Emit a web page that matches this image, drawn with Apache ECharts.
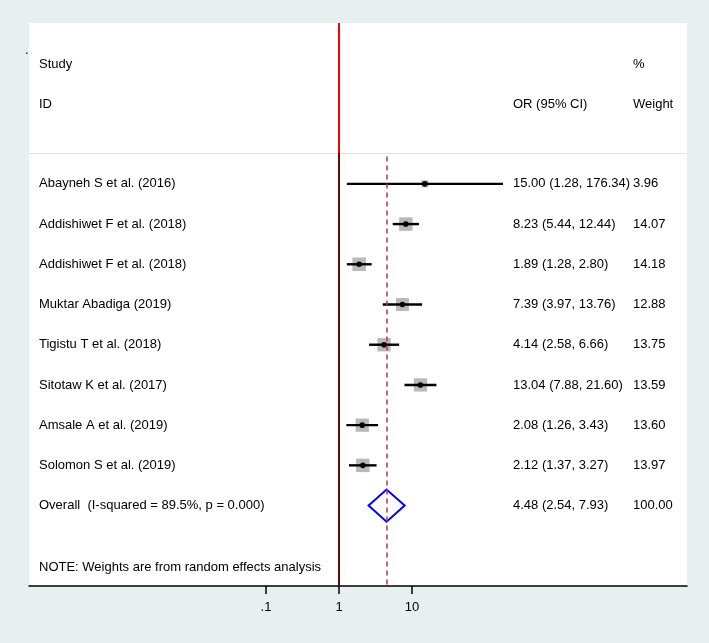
<!DOCTYPE html>
<html>
<head>
<meta charset="utf-8">
<script src="https://cdn.jsdelivr.net/npm/echarts@6/dist/echarts.min.js"></script>
<style>
  html, body { margin: 0; padding: 0; background: #e7eff1; }
  #chart { width: 709px; height: 643px; }
</style>
</head>
<body>
<div id="chart"></div>
<script>
// study rows
var studies = [
    'Abayneh S et al. (2016)',
    'Addishiwet F et al. (2018)',
    'Addishiwet F et al. (2018)',
    'Muktar Abadiga (2019)',
    'Tigistu T et al. (2018)',
    'Sitotaw K et al. (2017)',
    'Amsale A et al. (2019)',
    'Solomon S et al. (2019)'
];
var oddsRatio = [15.00, 8.23, 1.89, 7.39, 4.14, 13.04, 2.08, 2.12];
var lowerCI = [1.28, 5.44, 1.28, 3.97, 2.58, 7.88, 1.26, 1.37];
var upperCI = [176.34, 12.44, 2.80, 13.76, 6.66, 21.60, 3.43, 3.27];
var weights = [3.96, 14.07, 14.18, 12.88, 13.75, 13.59, 13.60, 13.97];

// pooled estimate
var overallLabel = 'Overall  (I-squared = 89.5%, p = 0.000)';
var overallOR = [4.48, 2.54, 7.93]; // estimate, lower, upper
var overallWeight = 100.00;

// x axis
var tickValues = [0.1, 1, 10];
var tickLabels = ['.1', '1', '10'];

var FONT = '13px "Liberation Sans", Arial, sans-serif';
var lg = function (v) { return Math.log10(v); };
var X_MIN = -4.247, X_MAX = 4.767;

var studyData = studies.map(function (s, i) {
    return [lg(oddsRatio[i]), i, lg(lowerCI[i]), lg(upperCI[i]), weights[i]];
});
var overallRow = studies.length;

var chart = echarts.init(document.getElementById('chart'));

var txt = function (x, y, s) {
    return { type: 'text', x: x, y: y, style: { text: s, font: FONT, fill: '#000', verticalAlign: 'middle' } };
};

var option = {
    backgroundColor: '#e7eff1',
    animation: false,
    grid: {
        left: 29, right: 22, top: 23, bottom: 57,
        show: true, backgroundColor: '#fff', borderWidth: 0
    },
    xAxis: {
        type: 'value',
        min: X_MIN, max: X_MAX,
        splitLine: { show: false },
        axisLine: { onZero: false, lineStyle: { color: '#000', width: 1.5 } },
        axisTick: {
            customValues: tickValues.map(lg),
            length: 8,
            lineStyle: { color: '#000', width: 1.5 }
        },
        axisLabel: {
            customValues: tickValues.map(lg),
            margin: 15,
            color: '#000',
            fontSize: 13,
            fontFamily: '"Liberation Sans", Arial, sans-serif',
            formatter: function (v) {
                var k = tickValues.map(lg).findIndex(function (t) { return Math.abs(t - v) < 1e-6; });
                return k >= 0 ? tickLabels[k] : '';
            }
        }
    },
    yAxis: {
        type: 'value', inverse: true, min: -4, max: 10,
        show: false, splitLine: { show: false }
    },
    graphic: [
        txt(39, 64, 'Study'),
        txt(39, 104, 'ID'),
        txt(513, 104, 'OR (95% CI)'),
        txt(633, 64, '%'),
        txt(633, 104, 'Weight'),
        txt(39, 567, 'NOTE: Weights are from random effects analysis'),
        txt(25, 50, '.')
    ],
    series: [
        {
            type: 'custom',
            name: 'studies',
            data: studyData,
            renderItem: function (params, api) {
                var c = api.coord([api.value(0), api.value(1)]);
                var lo = api.coord([api.value(2), api.value(1)]);
                var hi = api.coord([api.value(3), api.value(1)]);
                var side = 3.6 * Math.sqrt(api.value(4));
                var i = params.dataIndex;
                var ciText = oddsRatio[i].toFixed(2) + ' (' + lowerCI[i].toFixed(2) + ', ' + upperCI[i].toFixed(2) + ')';
                return {
                    type: 'group',
                    children: [
                        { type: 'rect', shape: { x: c[0] - side / 2, y: c[1] - side / 2, width: side, height: side }, style: { fill: '#b9b9b9' } },
                        { type: 'line', shape: { x1: lo[0], y1: lo[1], x2: hi[0], y2: hi[1] }, style: { stroke: '#000', lineWidth: 2.4 } },
                        { type: 'circle', shape: { cx: c[0], cy: c[1], r: 2.8 }, style: { fill: '#000' } },
                        txt(39, c[1], studies[i]),
                        txt(513, c[1], ciText),
                        txt(633, c[1], weights[i].toFixed(2))
                    ]
                };
            },
            markLine: {
                silent: true,
                symbol: 'none',
                label: { show: false },
                data: [
                    [{ coord: [X_MIN, -0.77], lineStyle: { color: '#e2e2e2', width: 1, type: 'solid' } }, { coord: [X_MAX, -0.77] }],
                    [{ coord: [lg(1), -4], lineStyle: { color: '#ff0000', width: 2, type: 'solid' } }, { coord: [lg(1), -0.77] }],
                    [{ coord: [lg(1), -0.77], lineStyle: { color: '#5c0d0d', width: 2, type: 'solid' } }, { coord: [lg(1), 10] }],
                    [{ coord: [lg(overallOR[0]), -0.68], lineStyle: { color: '#b23a4a', width: 1.5, type: [5, 4] } }, { coord: [lg(overallOR[0]), 10] }]
                ]
            }
        },
        {
            type: 'custom',
            name: 'overall',
            data: [[lg(overallOR[0]), overallRow, lg(overallOR[1]), lg(overallOR[2])]],
            renderItem: function (params, api) {
                var row = api.value(1);
                var l = api.coord([api.value(2), row]);
                var r = api.coord([api.value(3), row]);
                var t = api.coord([api.value(0), row - 0.4]);
                var b = api.coord([api.value(0), row + 0.4]);
                var ciText = overallOR[0].toFixed(2) + ' (' + overallOR[1].toFixed(2) + ', ' + overallOR[2].toFixed(2) + ')';
                return {
                    type: 'group',
                    children: [
                        { type: 'polygon', shape: { points: [l, t, r, b] }, style: { fill: 'none', stroke: '#0000ff', lineWidth: 2 } },
                        txt(39, l[1], overallLabel),
                        txt(513, l[1], ciText),
                        txt(633, l[1], overallWeight.toFixed(2))
                    ]
                };
            }
        }
    ]
};
chart.setOption(option);
</script>
</body>
</html>
